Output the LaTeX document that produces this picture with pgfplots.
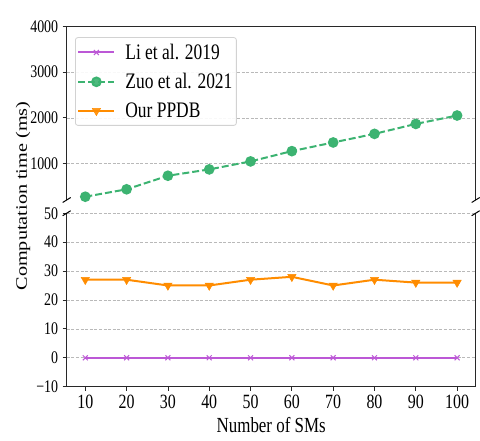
\documentclass[border=0pt]{standalone}
\usepackage{fontspec}
\setmainfont{Liberation Serif}
\usepackage{pgfplots}
\pgfplotsset{compat=1.18}

\definecolor{liPurple}{RGB}{188,88,214}
\definecolor{zuoGreen}{RGB}{60,179,113}
\definecolor{ppdbOrange}{RGB}{255,140,0}
\definecolor{spine}{RGB}{40,40,40}

% text in this figure is set slightly taller than wide
\newcommand{\tall}[1]{\scalebox{1}[1.27]{#1}}

\pgfplotsset{
  brokenpanel/.style={
    scale only axis,
    width=409bp,
    height=173.5bp,
    anchor=south west,
    xmin=5.5, xmax=104.5,
    axis line style={draw=none},
    tick align=outside,
    major tick length=4bp,
    tick style={spine, line width=0.8bp},
    ytick pos=left,
    ymajorgrids,
    grid style={dash pattern=on 3bp off 1.6bp, gray!55, line width=0.6bp},
    scaled y ticks=false,
    yticklabel style={font=\fontsize{14}{14}\selectfont, xshift=-1bp},
    xticklabel style={font=\fontsize{16}{16}\selectfont, yshift=-1bp},
  },
}

\begin{document}
\begin{tikzpicture}[x=1bp, y=1bp]
\useasboundingbox (0,0) rectangle (480,441);

% lower panel: the two small series
\begin{axis}[brokenpanel, name=lower, at={(66.7bp,54.3bp)},
  ymin=-10, ymax=50,
  ytick={-10,0,10,20,30,40,50},
  yticklabels={\tall{−10},\tall{0},\tall{10},\tall{20},\tall{30},\tall{40},\tall{50}},
  xtick={10,20,30,40,50,60,70,80,90,100},
  xticklabels={\tall{10},\tall{20},\tall{30},\tall{40},\tall{50},\tall{60},\tall{70},\tall{80},\tall{90},\tall{100}},
  xtick pos=bottom]
\addplot[liPurple, line width=2bp, mark=x, mark size=3.5bp,
  mark options={line width=1bp}]
  coordinates {(10,0)(20,0)(30,0)(40,0)(50,0)(60,0)(70,0)(80,0)(90,0)(100,0)};
\addplot[ppdbOrange, line width=2bp, mark=triangle*, mark size=4.8bp,
  mark options={rotate=180, line width=0.5bp}]
  coordinates {(10,27)(20,27)(30,25)(40,25)(50,27)(60,28)(70,25)(80,27)(90,26)(100,26)};
\end{axis}

% upper panel: the large series and the legend
\begin{axis}[brokenpanel, name=upper, at={(66.7bp,241bp)},
  ymin=200, ymax=4000,
  ytick={1000,2000,3000,4000},
  yticklabels={\tall{1000},\tall{2000},\tall{3000},\tall{4000}},
  xtick=\empty,
  legend style={
    at={(0.0203,0.9385)}, anchor=north west,
    font=\fontsize{17.5}{18}\selectfont,
    draw=gray!35, line width=0.8bp, rounded corners=2.5bp,
    fill=white, fill opacity=0.9, text opacity=1,
    inner xsep=2bp, inner ysep=4.5bp,
    row sep=8.5bp,
    cells={anchor=west},
  },
  legend image code/.code={%
    \draw[mark repeat=2, mark phase=2, #1]
      plot coordinates {(0bp,0bp) (18bp,0bp) (36bp,0bp)};},
]
\addlegendimage{liPurple, line width=2bp, mark=x, mark size=3.5bp,
  mark options={line width=1bp}}
\addlegendentry{\hspace{8bp}\tall{Li et al. 2019}}
\addplot[zuoGreen, line width=2bp, dash pattern=on 7bp off 3bp,
  mark=*, mark size=4.3bp, mark options={solid}]
  coordinates {(10,272)(20,434)(30,731)(40,870)(50,1045)(60,1270)(70,1460)(80,1648)(90,1866)(100,2050)};
\addlegendentry{\hspace{8bp}\tall{Zuo et al. 2021}}
\addlegendimage{ppdbOrange, line width=2bp, mark=triangle*, mark size=4.8bp,
  mark options={rotate=180, line width=0.5bp}}
\addlegendentry{\hspace{8bp}\tall{Our PPDB}}
\end{axis}

% spines of both panels, open where the axis is broken
\draw[spine, line width=1bp]
  (upper.south west) -- (upper.north west) -- (upper.north east) -- (upper.south east);
\draw[spine, line width=1bp]
  (lower.north west) -- (lower.south west) -- (lower.south east) -- (lower.north east);

% break marks
\foreach \c in {upper.south west, upper.south east, lower.north west, lower.north east}
  \draw[black, line width=1bp] (\c) ++(-4,-2.5) -- ++(8,5);

% axis titles
\node[font=\fontsize{16}{16}\selectfont] at (23,245)
  {\scalebox{1}[1.27]{\rotatebox{90}{Computation time (ms)}}};
\node[anchor=base, font=\fontsize{17}{17}\selectfont] at (271.2,8) {\tall{Number of SMs}};
\end{tikzpicture}
\end{document}
